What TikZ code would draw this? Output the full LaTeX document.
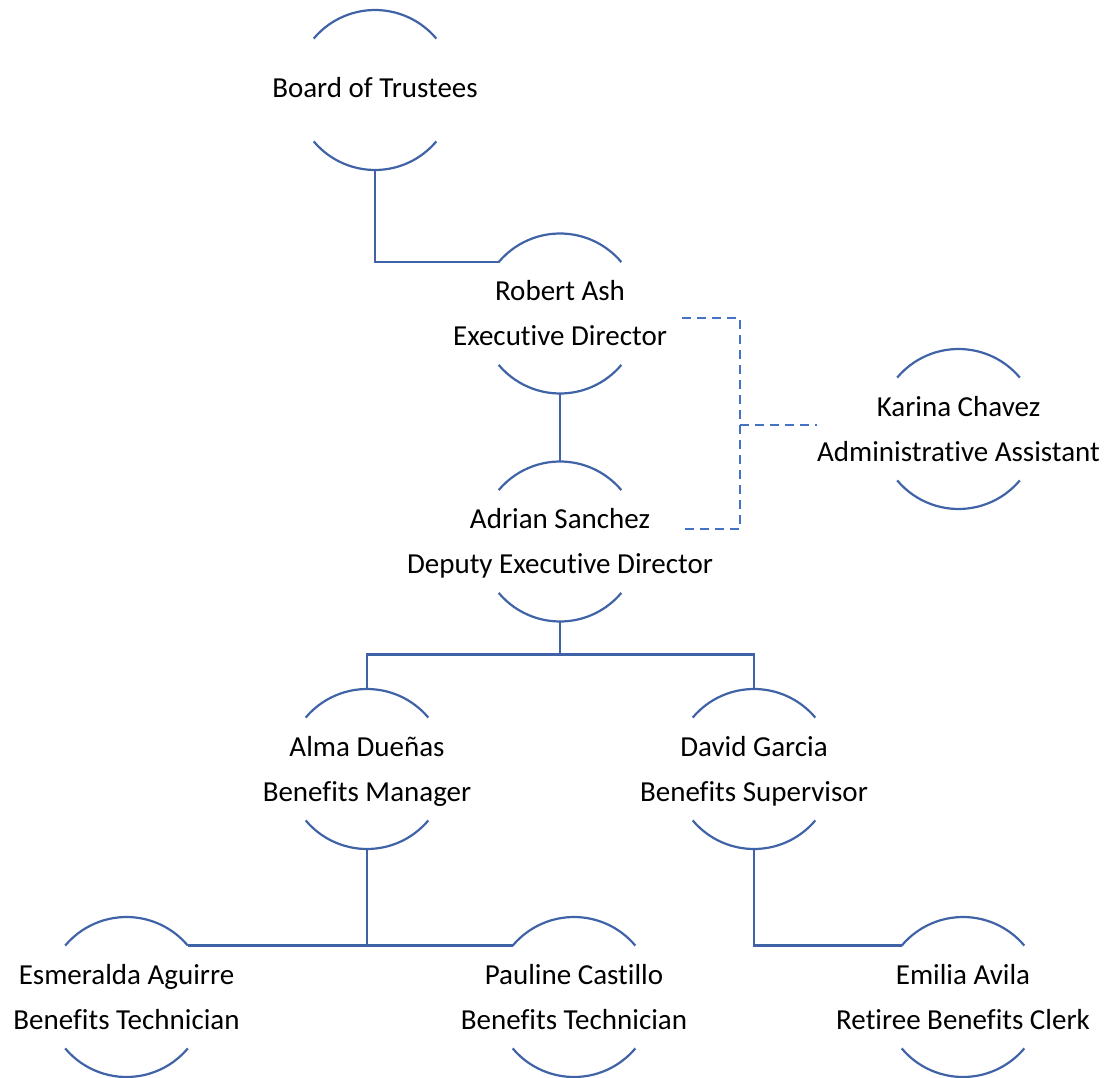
\documentclass[tikz,border=0pt]{standalone}
\usepackage{fontspec}
\setmainfont{Carlito}[Ligatures={NoCommon}]
\definecolor{linesolid}{RGB}{64,99,168}
\definecolor{linedash}{RGB}{68,114,196}
\newcommand\orgtop{\rule{0pt}{27pt}}
\newcommand\orgbot{\rule[-8pt]{0pt}{8pt}}
\tikzset{
  ring/.style={circle, minimum size=160pt, inner sep=0pt, outer sep=0pt},
  lbl/.style={align=center, inner sep=0pt, font=\fontsize{29}{45}\selectfont},
  orgline/.style={draw=linesolid, line width=2.2pt},
  dotline/.style={draw=linedash, line width=2.2pt, dash pattern=on 9pt off 6pt},
}
\begin{document}
\begin{tikzpicture}[x=1pt,y=1pt]
\useasboundingbox (0,0) rectangle (1109,-1078);
% ring nodes (shape holders)
\node[ring] (board)  at (375,-90) {};
\node[ring] (robert) at (560,-313.5) {};
\node[ring] (adrian) at (560,-541.5) {};
\node[ring] (karina) at (958.5,-429) {};
\node[ring] (alma)   at (367,-769) {};
\node[ring] (david)  at (754,-769) {};
\node[ring] (esm)    at (126.5,-997) {};
\node[ring] (pau)    at (574,-997) {};
\node[ring] (emi)    at (963,-997) {};
% arcs
\foreach \n in {board,robert,adrian,karina,alma,david,esm,pau,emi}{
  \draw[orgline] (\n.140) arc[start angle=140,end angle=40,radius=80pt];
  \draw[orgline] (\n.220) arc[start angle=220,end angle=320,radius=80pt];
}
% labels
\node[lbl, anchor=base] (board-t) at ([yshift=-8pt]board.center) {Board of Trustees};
\node[lbl] (robert-t) at (robert.center) {\orgtop Robert Ash\\Executive Director\orgbot};
\node[lbl] (adrian-t) at (adrian.center) {\orgtop Adrian Sanchez\\Deputy Executive Director\orgbot};
\node[lbl] (karina-t) at (karina.center) {\orgtop Karina Chavez\\Administrative Assistant\orgbot};
\node[lbl] (alma-t) at (alma.center) {\orgtop Alma Dueñas\\Benefits Manager\orgbot};
\node[lbl] (david-t) at (david.center) {\orgtop David Garcia\\Benefits Supervisor\orgbot};
\node[lbl] (esm-t) at (esm.center) {\orgtop Esmeralda Aguirre\\Benefits Technician\orgbot};
\node[lbl] (pau-t) at (pau.center) {\orgtop Pauline Castillo\\Benefits Technician\orgbot};
\node[lbl] (emi-t) at (emi.center) {\orgtop Emilia Avila\\Retiree Benefits Clerk\orgbot};
% solid connectors
\draw[orgline] (board.south) |- (robert.140);
\draw[orgline] (robert.south) -- (adrian.north);
\draw[orgline] (adrian.south) -- ([yshift=-33pt]adrian.south) coordinate (abus);
\draw[orgline] (alma.north) |- (abus) -| (david.north);
\draw[orgline] (esm.40) -- (pau.140);
\draw[orgline] (alma.south) -- (alma.south |- esm.40);
\draw[orgline] (david.south) |- (emi.140);
% dashed assistant connector
\coordinate (dR) at (682,-318);
\coordinate (dA) at (683,-529);
\coordinate (dbus) at (740,-425);
\draw[dotline] (dR) -| (dbus) |- (dA);
\draw[dotline] (dbus) -- (dbus -| karina-t.west);
\end{tikzpicture}
\end{document}
